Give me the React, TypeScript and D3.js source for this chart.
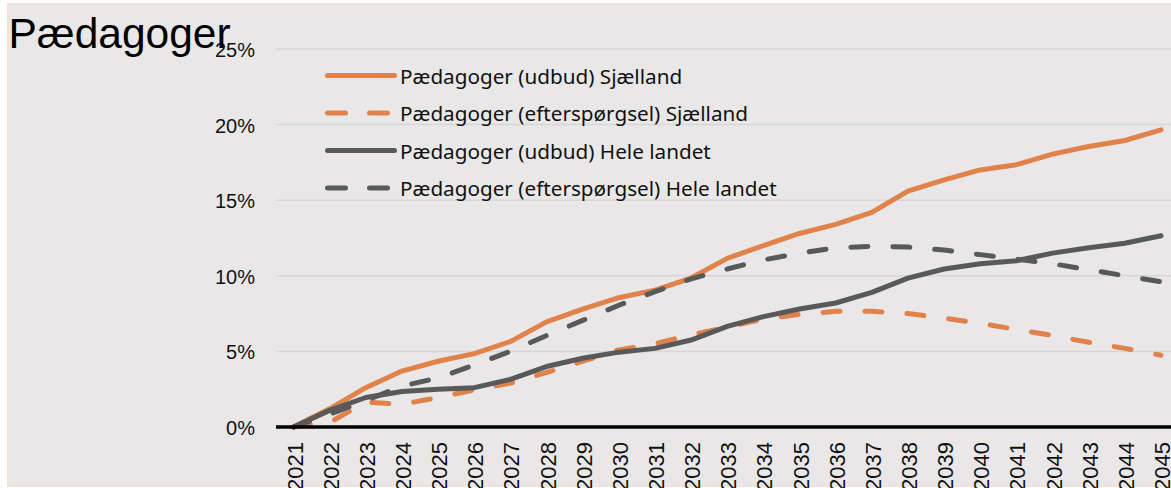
import { useEffect, useRef } from 'react'
import * as d3 from 'd3'

const years = [2021, 2022, 2023, 2024, 2025, 2026, 2027, 2028, 2029, 2030, 2031, 2032, 2033,
  2034, 2035, 2036, 2037, 2038, 2039, 2040, 2041, 2042, 2043, 2044, 2045]

// values in percent
const udbudSjaelland = [0, 1.2, 2.6, 3.7, 4.35, 4.85, 5.65, 6.95, 7.8, 8.55, 9.05, 9.85, 11.15,
  12.0, 12.8, 13.4, 14.2, 15.6, 16.35, 17.0, 17.35, 18.05, 18.55, 18.95, 19.65]
const eftersporgselSjaelland = [0, 0.3, 1.65, 1.5, 1.95, 2.45, 2.9, 3.6, 4.35, 5.1, 5.5, 6.1, 6.6,
  7.15, 7.45, 7.65, 7.65, 7.5, 7.2, 6.85, 6.45, 6.05, 5.6, 5.2, 4.75]
const udbudHeleLandet = [0, 1.1, 1.95, 2.35, 2.5, 2.6, 3.15, 4.0, 4.55, 4.95, 5.2, 5.75, 6.65,
  7.3, 7.8, 8.2, 8.9, 9.85, 10.45, 10.8, 11.0, 11.5, 11.85, 12.15, 12.65]
const eftersporgselHeleLandet = [0, 0.85, 1.75, 2.7, 3.25, 4.1, 5.0, 6.05, 7.05, 8.05, 8.95, 9.8, 10.45,
  11.05, 11.5, 11.85, 11.95, 11.9, 11.7, 11.4, 11.1, 10.8, 10.4, 10.0, 9.6]

const yTicks = [0, 5, 10, 15, 20, 25]

const seriesNames = [
  'Pædagoger (udbud) Sjælland',
  'Pædagoger (efterspørgsel) Sjælland',
  'Pædagoger (udbud) Hele landet',
  'Pædagoger (efterspørgsel) Hele landet',
]

const ORANGE = '#E0824A'
const GREY = '#595959'

export default function App() {
  const svgRef = useRef<SVGSVGElement>(null)

  useEffect(() => {
    if (!svgRef.current) return
    const svg = d3.select(svgRef.current)
    svg.selectAll('*').remove()

    const W = 1171
    const H = 488

    // panel background with thin peach border
    svg.append('rect').attr('x', 8).attr('y', 4).attr('width', W).attr('height', H - 6)
      .attr('fill', '#E9E7E8').attr('stroke', '#F4E2D8').attr('stroke-width', 2)

    const x = d3.scaleLinear().domain([2021, 2045]).range([293.5, 1161])
    const y = d3.scaleLinear().domain([0, 25]).range([427, 49])
    const plotLeft = 276

    // gridlines
    yTicks.filter(t => t > 0).forEach(t => {
      svg.append('line').attr('x1', plotLeft).attr('x2', W).attr('y1', y(t)).attr('y2', y(t))
        .attr('stroke', '#D8D6D7').attr('stroke-width', 1.5)
    })

    // y tick labels
    yTicks.forEach(t => {
      svg.append('text').attr('x', 255).attr('y', y(t) + 8).attr('text-anchor', 'end')
        .style('font-family', '"Liberation Sans", Arial, sans-serif').style('font-size', '20px')
        .style('fill', '#111').text(`${t}%`)
    })

    // x tick labels (rotated)
    years.forEach(yr => {
      svg.append('text').attr('transform', `translate(${x(yr) + 9},442) rotate(-90)`)
        .attr('text-anchor', 'end')
        .style('font-family', '"Liberation Sans", Arial, sans-serif').style('font-size', '22px')
        .style('fill', '#111').text(String(yr))
    })

    const series = [
      { name: seriesNames[0], values: udbudSjaelland, color: ORANGE, dashed: false },
      { name: seriesNames[1], values: eftersporgselSjaelland, color: ORANGE, dashed: true },
      { name: seriesNames[2], values: udbudHeleLandet, color: GREY, dashed: false },
      { name: seriesNames[3], values: eftersporgselHeleLandet, color: GREY, dashed: true },
    ]

    const line = d3.line<number>()
      .x((_, i) => x(years[i]))
      .y(d => y(d))

    // lines
    series.forEach(s => {
      svg.append('path').datum(s.values)
        .attr('fill', 'none').attr('stroke', s.color).attr('stroke-width', 5)
        .attr('stroke-linecap', 'round').attr('stroke-linejoin', 'round')
        .attr('stroke-dasharray', s.dashed ? '17 25' : null)
        .attr('d', line)
    })

    // x axis line at 0%
    svg.append('line').attr('x1', plotLeft).attr('x2', W).attr('y1', y(0)).attr('y2', y(0))
      .attr('stroke', '#000').attr('stroke-width', 3.5)

    // Legend
    series.forEach((s, i) => {
      const ly = 75.5 + i * 37.5
      svg.append('line').attr('x1', 327.5).attr('x2', 394.5).attr('y1', ly).attr('y2', ly)
        .attr('stroke', s.color).attr('stroke-width', 5).attr('stroke-linecap', 'round')
        .attr('stroke-dasharray', s.dashed ? '18 24' : null)
      svg.append('text').attr('x', 400).attr('y', ly + 8)
        .style('font-family', '"Noto Sans", sans-serif').style('font-size', '20.7px')
        .style('fill', '#111').text(s.name)
    })

    // Title
    svg.append('text').attr('x', 8.5).attr('y', 48)
      .style('font-family', '"Liberation Sans", Arial, sans-serif').style('font-size', '42.5px')
      .style('fill', '#000').text('Pædagoger')
  }, [])

  return (
    <div style={{ position: 'absolute', left: 0, top: 0 }}>
      <svg ref={svgRef} width={1171} height={488} style={{ display: 'block' }} />
    </div>
  )
}
